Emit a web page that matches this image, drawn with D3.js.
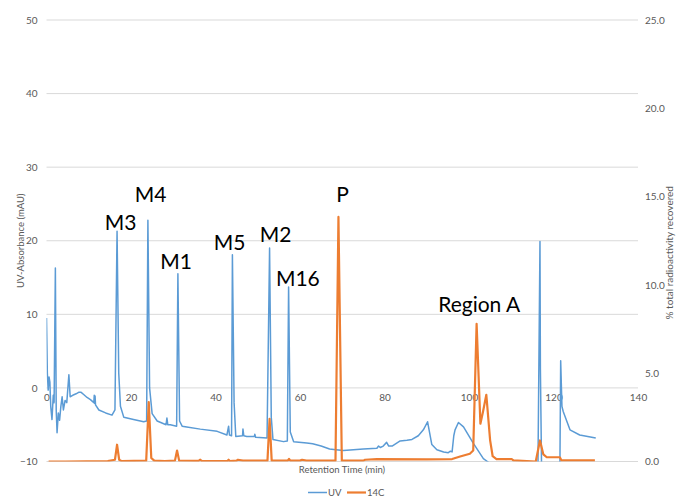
<!DOCTYPE html>
<html>
<head>
<meta charset="utf-8">
<script src="https://cdn.jsdelivr.net/npm/d3@7"></script>
<style>
body { margin: 0; background: #fff; }
text { font-family: Lato, "Open Sans", sans-serif; }
</style>
</head>
<body>
<div id="chart"></div>
<script>
// retention time (min) and UV absorbance (mAU)
var uvTime = [0.0, 0.2, 0.4, 0.6, 0.8, 1.0, 1.3, 1.6, 1.8, 2.1, 2.3, 2.5, 2.8, 3.1, 3.4, 3.7, 4.0, 4.4, 4.8, 5.3,
    5.6, 6.2, 7.0, 7.6, 8.2, 8.8, 9.6, 10.4, 11.2, 11.3, 11.4, 11.5, 11.6, 12.4, 14.0, 15.5, 16.2, 16.7, 17.1, 17.5,
    18.3, 20.6, 23.0, 23.7, 24.0, 24.4, 25.0, 26.2, 28.3, 28.5, 28.7, 29.3, 30.8, 31.1, 31.5, 32.1, 33.2, 36.4, 40.4, 42.7,
    43.1, 43.3, 43.8, 44.0, 44.4, 44.8, 46.4, 46.5, 46.7, 47.4, 49.2, 49.3, 49.5, 52.2, 52.8, 53.2, 53.6, 56.1, 57.0, 57.3,
    57.7, 58.5, 61.6, 63.0, 65.0, 67.0, 68.5, 70.3, 75.0, 78.2, 78.6, 79.0, 79.7, 80.5, 81.0, 81.8, 83.7, 85.3, 86.5, 88.0,
    89.2, 90.2, 91.2, 92.4, 94.0, 95.1, 95.6, 96.0, 96.4, 96.7, 97.5, 98.7, 101.0, 103.4, 104.6, 105.5, 110.0, 116.3, 116.8, 116.9,
    117.2, 121.5, 121.7, 122.0, 122.3, 122.8, 123.9, 126.2, 130.0];
var uvValue = [9.5, 2.0, -0.3, 1.5, 0.8, -2.5, -4.3, -1.0, -2.0, 16.3, -3.0, -6.1, -3.4, -4.4, -2.5, -1.2, -3.0, -1.7, -2.0, 1.8,
    -1.2, -1.0, -0.8, -0.6, -0.6, -0.9, -1.3, -1.6, -2.0, -1.0, -2.1, -1.1, -2.3, -3.0, -3.4, -3.7, -3.0, 21.3, 2.0, -2.5,
    -4.0, -4.3, -4.6, -4.5, 22.8, 0.0, -3.5, -4.5, -5.0, -4.1, -5.0, -5.0, -5.2, 15.5, -4.5, -5.2, -5.3, -5.6, -5.9, -6.4,
    -5.2, -6.4, -6.5, 18.1, -2.0, -6.6, -6.5, -5.6, -6.5, -6.6, -6.6, -6.3, -6.7, -6.8, 19.0, -4.0, -7.0, -7.3, -7.2, 13.7,
    -6.0, -7.3, -7.5, -7.6, -7.9, -8.3, -8.4, -8.5, -8.3, -8.2, -7.9, -8.1, -7.9, -7.4, -7.9, -7.9, -7.2, -7.1, -7.0, -6.5,
    -5.7, -4.6, -7.7, -8.4, -8.7, -8.8, -8.6, -8.7, -6.5, -5.7, -4.7, -5.3, -7.5, -9.6, -10.1, -11.0, -12.0, -12.0, 19.9, 2.5,
    -12.0, -12.0, 3.7, -2.5, -3.2, -4.0, -5.7, -6.4, -6.8];

// retention time (min) and 14C (% total radioactivity recovered)
var c14Time = [0.5, 4.5, 14.5, 16.2, 16.7, 17.2, 17.8, 23.6, 24.2, 24.8, 25.5, 28.0, 30.4, 30.9, 31.4, 36.0, 36.4, 36.8, 42.8, 43.1,
    43.4, 45.0, 45.3, 46.5, 52.3, 52.8, 53.3, 57.1, 57.4, 57.7, 60.0, 60.5, 61.5, 68.4, 69.1, 69.9, 75.0, 75.4, 78.2, 90.0,
    96.0, 97.9, 100.2, 101.0, 101.8, 102.7, 103.3, 104.1, 105.0, 105.6, 106.5, 110.1, 110.5, 115.8, 116.8, 117.6, 118.4, 121.5, 121.9, 129.8];
var c14Value = [0.0, 0.0, 0.02, 0.1, 0.95, 0.1, 0.02, 0.05, 3.36, 0.2, 0.05, 0.02, 0.05, 0.62, 0.05, 0.03, 0.1, 0.02, 0.02, 0.1,
    0.02, 0.05, 0.1, 0.05, 0.05, 2.42, 0.05, 0.05, 0.15, 0.05, 0.05, 0.1, 0.05, 0.05, 13.85, 0.05, 0.05, 0.1, 0.14, 0.12,
    0.14, 0.28, 0.44, 0.62, 7.8, 2.14, 2.8, 3.78, 1.2, 0.3, 0.14, 0.14, 0.06, 0.0, 1.19, 0.4, 0.24, 0.24, 0.06, 0.06];

// tick labels
var xTicks = [0, 20, 40, 60, 80, 100, 120, 140];
var leftTicks = [-10, 0, 10, 20, 30, 40, 50];
var rightTicks = [0, 5, 10, 15, 20, 25];

// peak annotations (time, mAU)
var peakNames = ["M3", "M4", "M1", "M5", "M2", "M16", "P", "Region A"];
var peakTime = [13.8, 20.9, 26.9, 39.6, 50.5, 54.3, 68.6, 92.7];
var peakLevel = [21.5, 25.3, 16.2, 18.8, 19.8, 13.9, 25.3, 10.3];

var svgWidth = 676;
var svgHeight = 498;

var plot = {
    left: 46.5,
    right: 638,
    top: 20,
    bottom: 461.5
};

var svg = d3.select("#chart")
    .append("svg")
    .attr("width", svgWidth)
    .attr("height", svgHeight);

var xScale = d3.scaleLinear()
    .domain([0, 140])
    .range([plot.left, plot.right]);

var yLeft = d3.scaleLinear()
    .domain([-10, 50])
    .range([plot.bottom, plot.top]);

var yRight = d3.scaleLinear()
    .domain([0, 25])
    .range([plot.bottom, plot.top]);

//gridlines
svg.append("g")
    .selectAll("line")
    .data(leftTicks)
    .enter()
    .append("line")
    .attr("x1", plot.left)
    .attr("x2", plot.right)
    .attr("y1", d => yLeft(d))
    .attr("y2", d => yLeft(d))
    .attr("stroke", "#d9d9d9")
    .attr("stroke-width", 1);

//left axis
var leftAxis = d3.axisLeft(yLeft).tickValues(leftTicks).tickSize(0).tickPadding(9);
svg.append("g")
    .attr("transform", `translate(${plot.left}, 0)`)
    .call(leftAxis)
    .call(g => g.select(".domain").remove())
    .selectAll("text")
    .attr("fill", "#595959")
    .style("font-size", "10px");

//right axis
var rightAxis = d3.axisRight(yRight).tickValues(rightTicks).tickSize(0).tickPadding(7)
    .tickFormat(d3.format(".1f"));
svg.append("g")
    .attr("transform", `translate(${plot.right}, 0)`)
    .call(rightAxis)
    .call(g => g.select(".domain").remove())
    .selectAll("text")
    .attr("fill", "#595959")
    .style("font-size", "10px");

//bottom axis sits on the zero line
var bottomAxis = d3.axisBottom(xScale).tickValues(xTicks).tickSize(0).tickPadding(6);
svg.append("g")
    .attr("transform", `translate(0, ${yLeft(0)})`)
    .call(bottomAxis)
    .call(g => g.select(".domain").remove())
    .selectAll("text")
    .attr("fill", "#595959")
    .style("font-size", "10px");

//clip lines to plot area
svg.append("clipPath")
    .attr("id", "plotClip")
    .append("rect")
    .attr("x", plot.left)
    .attr("y", plot.top)
    .attr("width", plot.right - plot.left)
    .attr("height", plot.bottom - plot.top);

var uvLine = d3.line()
    .x((d, i) => xScale(uvTime[i]))
    .y(d => yLeft(d));

var c14Line = d3.line()
    .x((d, i) => xScale(c14Time[i]))
    .y(d => yRight(d));

var lines = svg.append("g").attr("clip-path", "url(#plotClip)");

lines.append("path")
    .datum(uvValue)
    .attr("d", uvLine)
    .attr("fill", "none")
    .attr("stroke", "#5b9bd5")
    .attr("stroke-width", 1.5)
    .attr("stroke-linejoin", "round");

lines.append("path")
    .datum(c14Value)
    .attr("d", c14Line)
    .attr("fill", "none")
    .attr("stroke", "#ed7d31")
    .attr("stroke-width", 2.2)
    .attr("stroke-linejoin", "round");

//peak labels
svg.append("g")
    .selectAll("text")
    .data(peakNames)
    .enter()
    .append("text")
    .attr("x", (d, i) => xScale(peakTime[i]))
    .attr("y", (d, i) => yLeft(peakLevel[i]))
    .attr("fill", "#000")
    .style("font-size", "21px")
    .text(d => d);

//axis titles
svg.append("text")
    .attr("transform", `translate(24, ${(plot.top + plot.bottom) / 2}) rotate(-90)`)
    .attr("text-anchor", "middle")
    .attr("fill", "#595959")
    .style("font-size", "9.5px")
    .text("UV-Absorbance (mAU)");

svg.append("text")
    .attr("transform", `translate(673, ${(plot.top + plot.bottom) / 2 + 12}) rotate(-90)`)
    .attr("text-anchor", "middle")
    .attr("fill", "#595959")
    .style("font-size", "10px")
    .text("% total radioactivity recovered");

svg.append("text")
    .attr("x", 342)
    .attr("y", 473)
    .attr("text-anchor", "middle")
    .attr("fill", "#595959")
    .style("font-size", "9.5px")
    .text("Retention Time (min)");

//legend
var legendNames = ["UV", "14C"];
var legendColors = ["#5b9bd5", "#ed7d31"];
var legendX = [308, 347];

var legend = svg.append("g");
legendNames.forEach(function(name, i) {
    legend.append("line")
        .attr("x1", legendX[i])
        .attr("x2", legendX[i] + 19)
        .attr("y1", 492.5)
        .attr("y2", 492.5)
        .attr("stroke", legendColors[i])
        .attr("stroke-width", i === 0 ? 1.5 : 2.2);
    legend.append("text")
        .attr("x", legendX[i] + 20)
        .attr("y", 496)
        .attr("fill", "#595959")
        .style("font-size", "9.5px")
        .text(name);
});
</script>
</body>
</html>
